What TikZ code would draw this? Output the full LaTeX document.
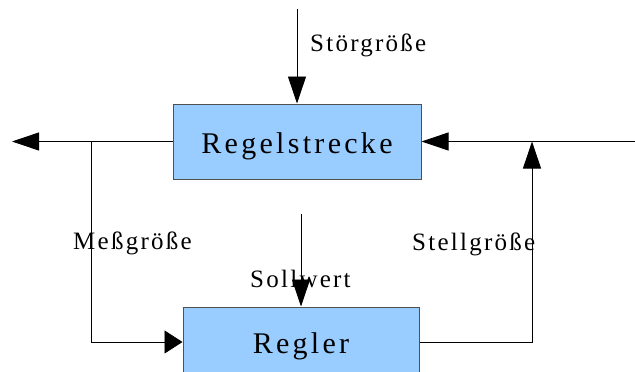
\documentclass[tikz,border=0pt]{standalone}
\usepackage{fontspec}
\newfontfamily\diafont{Liberation Serif}[LetterSpace=11]
\newfontfamily\labfont{Liberation Serif}[LetterSpace=9]
\usetikzlibrary{arrows.meta}
\definecolor{boxblue}{HTML}{99CCFF}
\definecolor{boxedge}{HTML}{505050}
\tikzset{
  block/.style={draw=boxedge, fill=boxblue, line width=1pt, rectangle,
    inner sep=0pt, font=\diafont\fontsize{30}{30}\selectfont, text depth=0pt},
  lab/.style={anchor=base west, inner sep=0pt, font=\labfont\fontsize{25}{25}\selectfont},
  sig/.style={draw=black, line width=0.9pt,
    -{Triangle[length=27pt,width=18pt]}},
  sigshort/.style={draw=black, line width=0.9pt,
    -{Triangle[length=18pt,width=23pt]}}
}
\begin{document}
\begin{tikzpicture}[x=1pt,y=-1pt]
  \useasboundingbox (0,0) rectangle (635,372);

  % process and controller blocks
  \node[block, minimum width=248pt, minimum height=75pt, text height=23pt]
    (rs) at (297,141.5) {Regelstrecke};
  \node[block, minimum width=236pt, minimum height=70pt, text height=22pt]
    (rg) at (301,342) {Regler};

  % free ends and junctions
  \coordinate (dist) at (297,9);
  \coordinate (out)  at (12,141.5);
  \coordinate (tap)  at (91,141.5);
  \coordinate (set)  at (301,214);
  \coordinate (inp)  at (636,141.5);
  \coordinate (sum)  at (532,141.5);

  % signal paths
  \draw[sig] (dist) -- (rs.north);
  \draw[sig] (rs.west) -- (out);
  \draw[sigshort] (tap) |- (rg.west);
  \draw[sig] (set) -- (rg.north);
  \draw[sig] (rg.east) -| (sum);
  \draw[sig] (inp) -- (rs.east);

  % signal names
  \node[lab] (lstoer) at (310,51)  {Störgröße};
  \node[lab] (lmess)  at (73,249)  {Meßgröße};
  \node[lab] (lstell) at (412,250) {Stellgröße};
  \node[lab] (lsoll)  at (250,287) {Sollwert};
\end{tikzpicture}
\end{document}
